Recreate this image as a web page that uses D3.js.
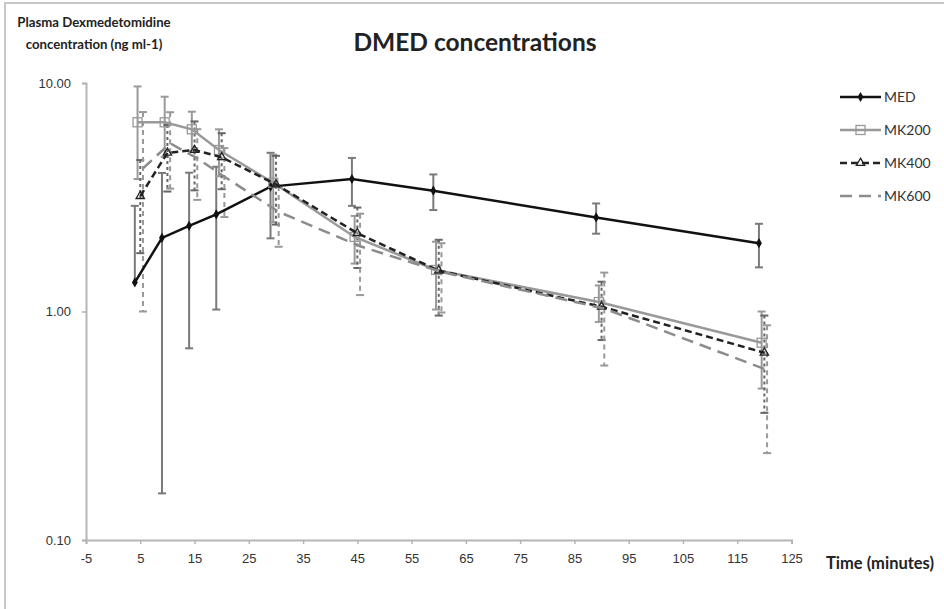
<!DOCTYPE html>
<html>
<head>
<meta charset="utf-8">
<script src="https://cdn.jsdelivr.net/npm/d3@7"></script>
<style>
  body { margin: 0; background: #fff; }
  svg { font-family: Lato, "Open Sans", sans-serif; }
</style>
</head>
<body>
<div id="container"></div>
<script>
// sampling times (minutes), each series slightly shifted as in the original
var timeMED   = [4, 9, 14, 19, 29, 44, 59, 89, 119];
var timeMK200 = [4.5, 9.5, 14.5, 19.5, 29.5, 44.5, 59.5, 89.5, 119.5];
var timeMK400 = [5, 10, 15, 20, 30, 45, 60, 90, 120];
var timeMK600 = [5.5, 10.5, 15.5, 20.5, 30.5, 45.5, 60.5, 90.5, 120.5];

// mean plasma concentration (ng ml-1) and SD
var meanMED   = [1.34, 2.10, 2.37, 2.66, 3.52, 3.80, 3.38, 2.58, 1.99];
var sdMED     = [1.56, 1.94, 1.68, 1.64, 1.43, 0.90, 0.60, 0.39, 0.43];
var meanMK200 = [6.73, 6.73, 6.27, 5.09, 3.66, 2.12, 1.52, 1.10, 0.73];
var sdMK200   = [2.93, 1.98, 1.22, 1.18, 1.20, 0.50, 0.50, 0.20, 0.27];
var meanMK400 = [3.20, 4.95, 5.09, 4.73, 3.60, 2.20, 1.51, 1.05, 0.66];
var sdMK400   = [1.40, 1.60, 1.70, 1.30, 1.20, 0.65, 0.55, 0.30, 0.30];
var meanMK600 = [4.23, 5.45, 4.68, 3.89, 2.73, 1.93, 1.49, 1.03, 0.555];
var sdMK600   = [3.23, 2.00, 1.60, 1.30, 0.81, 0.75, 0.50, 0.45, 0.315];

var xTicks = [-5, 5, 15, 25, 35, 45, 55, 65, 75, 85, 95, 105, 115, 125];
var yTicks = [0.1, 1, 10];

var series = [
  { name: 'MED',   t: timeMED,   m: meanMED,   sd: sdMED,   color: '#111', dash: null,  err: '#7a7a7a', errDash: null, marker: 'diamond' },
  { name: 'MK200', t: timeMK200, m: meanMK200, sd: sdMK200, color: '#999', dash: null,  err: '#9a9a9a', errDash: null, marker: 'square' },
  { name: 'MK400', t: timeMK400, m: meanMK400, sd: sdMK400, color: '#222', dash: '7,4', err: '#666', errDash: '3,3', marker: 'triangle' },
  { name: 'MK600', t: timeMK600, m: meanMK600, sd: sdMK600, color: '#8c8c8c', dash: '12,7', err: '#999', errDash: '5,4', marker: 'x' }
];

var width = 944, height = 609;
var svg = d3.select('#container').append('svg')
    .attr('width', width)
    .attr('height', height);

// chart frame
svg.append('rect')
    .attr('x', 5).attr('y', 3)
    .attr('width', 945).attr('height', 620)
    .attr('fill', 'none')
    .attr('stroke', '#c8c8c8')
    .attr('stroke-width', 2);

var x = d3.scaleLinear().domain([-5, 125]).range([86, 791.5]);
var y = d3.scaleLog().domain([0.1, 10]).range([540, 83]);

// axes
var xAxis = svg.append('g')
    .attr('transform', 'translate(0,540)')
    .call(d3.axisBottom(x).tickValues(xTicks).tickSize(4).tickPadding(10)
      .tickFormat(function(d) { return String(d); }));
var yAxis = svg.append('g')
    .attr('transform', 'translate(86,0)')
    .call(d3.axisLeft(y).tickValues(yTicks).tickSize(4).tickPadding(11)
      .tickFormat(function(d) { return d.toFixed(2); }));

[xAxis, yAxis].forEach(function(a) {
  a.select('.domain').attr('stroke', '#b5b5b5').attr('stroke-width', 2);
  a.selectAll('.tick line').attr('stroke', '#b5b5b5').attr('stroke-width', 1.5);
  a.selectAll('.tick text').attr('fill', '#333').style('font-size', '13px');
});

// error bars
series.forEach(function(s) {
  var g = svg.append('g');
  s.m.forEach(function(v, i) {
    var cx = x(s.t[i]);
    var hi = v + s.sd[i], lo = v - s.sd[i];
    var yHi = y(hi);
    var yLo = lo > 0 ? y(Math.max(lo, 0.1)) : y(v);
    g.append('line')
        .attr('x1', cx).attr('x2', cx)
        .attr('y1', yHi).attr('y2', yLo)
        .attr('stroke', s.err).attr('stroke-width', 2)
        .attr('stroke-dasharray', s.errDash);
    g.append('line')
        .attr('x1', cx - 4).attr('x2', cx + 4)
        .attr('y1', yHi).attr('y2', yHi)
        .attr('stroke', s.err).attr('stroke-width', 2);
    if (lo > 0) {
      g.append('line')
          .attr('x1', cx - 4).attr('x2', cx + 4)
          .attr('y1', yLo).attr('y2', yLo)
          .attr('stroke', s.err).attr('stroke-width', 2);
    }
  });
});

var line = d3.line()
    .x(function(d) { return x(d[0]); })
    .y(function(d) { return y(d[1]); });

function drawMarker(g, type, cx, cy, color) {
  if (type === 'diamond') {
    g.append('path')
        .attr('d', d3.symbol().type(d3.symbolDiamond).size(30))
        .attr('transform', 'translate(' + cx + ',' + cy + ')')
        .attr('fill', color);
  } else if (type === 'square') {
    g.append('rect')
        .attr('x', cx - 4.5).attr('y', cy - 4.5)
        .attr('width', 9).attr('height', 9)
        .attr('fill', 'none').attr('stroke', color).attr('stroke-width', 1.3);
  } else if (type === 'triangle') {
    g.append('path')
        .attr('d', d3.symbol().type(d3.symbolTriangle).size(30))
        .attr('transform', 'translate(' + cx + ',' + cy + ')')
        .attr('fill', 'none').attr('stroke', color).attr('stroke-width', 1.3);
  } else {
    g.append('path')
        .attr('d', d3.symbol().type(d3.symbolTimes).size(36))
        .attr('transform', 'translate(' + cx + ',' + cy + ')')
        .attr('fill', color);
  }
}

// series lines and markers
series.forEach(function(s) {
  var pts = s.m.map(function(v, i) { return [s.t[i], v]; });
  var g = svg.append('g');
  g.append('path')
      .datum(pts)
      .attr('d', line)
      .attr('fill', 'none')
      .attr('stroke', s.color)
      .attr('stroke-width', 2.5)
      .attr('stroke-dasharray', s.dash);
  pts.forEach(function(p) {
    drawMarker(g, s.marker, x(p[0]), y(p[1]), s.color);
  });
});

// legend
var legend = svg.append('g');
series.forEach(function(s, i) {
  var ly = 97 + i * 33;
  legend.append('line')
      .attr('x1', 840).attr('x2', 881)
      .attr('y1', ly).attr('y2', ly)
      .attr('stroke', s.color).attr('stroke-width', 2.5)
      .attr('stroke-dasharray', s.dash);
  drawMarker(legend, s.marker, 860.5, ly, s.color);
  legend.append('text')
      .attr('x', 884).attr('y', ly + 5)
      .attr('fill', '#333')
      .style('font-size', '14px')
      .text(s.name);
});

// titles
svg.append('text')
    .attr('x', 475).attr('y', 51)
    .attr('text-anchor', 'middle')
    .style('font-size', '24.5px').style('font-weight', 'bold')
    .attr('fill', '#222')
    .text('DMED concentrations');

svg.append('text')
    .attr('x', 94).attr('y', 27)
    .attr('text-anchor', 'middle')
    .style('font-size', '13.2px').style('font-weight', 'bold')
    .attr('fill', '#222')
    .text('Plasma Dexmedetomidine');
svg.append('text')
    .attr('x', 94).attr('y', 49)
    .attr('text-anchor', 'middle')
    .style('font-size', '13.2px').style('font-weight', 'bold')
    .attr('fill', '#222')
    .text('concentration (ng ml-1)');

svg.append('text')
    .attr('x', 826).attr('y', 569)
    .style('font-size', '16.5px').style('font-weight', 'bold')
    .attr('fill', '#222')
    .text('Time (minutes)');
</script>
</body>
</html>
